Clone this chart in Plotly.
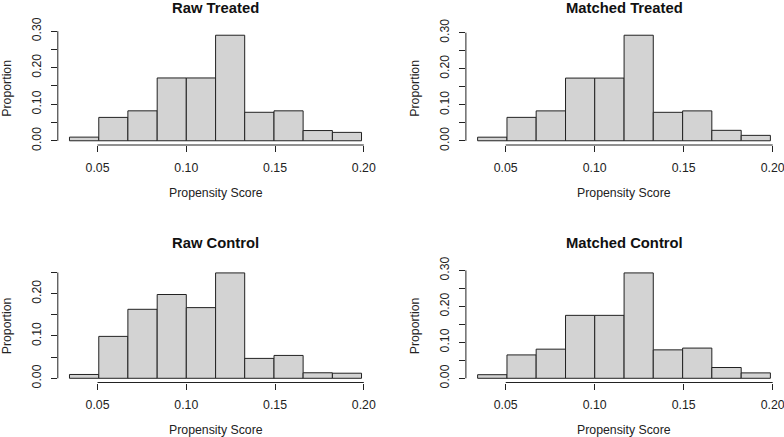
import numpy as np
import plotly.graph_objects as go

# ---- data ----
bin_edges = [0.0342, 0.0507, 0.0671, 0.0836, 0.1000, 0.1165, 0.1329, 0.1494, 0.1658, 0.1823, 0.1987]
raw_treated = [0.010, 0.064, 0.082, 0.172, 0.172, 0.289, 0.078, 0.082, 0.028, 0.023]
matched_treated = [0.010, 0.065, 0.083, 0.174, 0.174, 0.293, 0.079, 0.083, 0.029, 0.015]
raw_control = [0.009, 0.099, 0.163, 0.198, 0.167, 0.249, 0.047, 0.054, 0.013, 0.012]
matched_control = [0.010, 0.065, 0.081, 0.175, 0.175, 0.293, 0.079, 0.084, 0.030, 0.015]
panel_titles = ["Raw Treated", "Matched Treated", "Raw Control", "Matched Control"]
x_tick_vals = [0.05, 0.10, 0.15, 0.20]
x_tick_text = ["0.05", "0.10", "0.15", "0.20"]
x_label = "Propensity Score"
y_label = "Proportion"

W, H = 784, 437
FONT = "Liberation Sans, Arial, sans-serif"
TXT = "#222222"

edges = np.array(bin_edges)
centers = (edges[:-1] + edges[1:]) / 2
widths = np.diff(edges)
span = edges[-1] - edges[0]
xlim = [edges[0] - 0.04 * span, edges[-1] + 0.04 * span]

# plot regions in pixels (left, right), (top, bottom)
cols = [(57.8, 373.2), (465.9, 782.1)]
rows = [(31.0, 145.0), (268.7, 382.5)]

series = [raw_treated, matched_treated, raw_control, matched_control]

fig = go.Figure()
layout = dict(width=W, height=H, margin=dict(l=0, r=0, t=0, b=0, pad=0, autoexpand=False),
              template="none",
              paper_bgcolor="white", plot_bgcolor="white", showlegend=False,
              font=dict(family=FONT, color=TXT, size=12.3))
annotations = []
shapes = []

for i, vals in enumerate(series):
    r, c = divmod(i, 2)
    n = i + 1
    xa = "x" if n == 1 else f"x{n}"
    ya = "y" if n == 1 else f"y{n}"
    ymax = max(vals)
    ylim = [-0.04 * ymax, 1.04 * ymax]
    yticks = [round(k * 0.05, 2) for k in range(0, 20) if k * 0.05 <= ylim[1] + 1e-9]
    ytext = [f"{v:.2f}" if round(v * 100) % 10 == 0 else "" for v in yticks]

    fig.add_trace(go.Bar(x=centers, y=vals, width=widths, xaxis=xa, yaxis=ya,
                         marker=dict(color="#D3D3D3", line=dict(color="#222222", width=1)),
                         hoverinfo="x+y"))
    xl, xr = cols[c]
    yt, yb = rows[r]
    layout["xaxis" if n == 1 else f"xaxis{n}"] = dict(
        domain=[xl / W, xr / W], range=xlim, anchor=ya, automargin=False,
        showgrid=False, zeroline=False, showline=False,
        ticks="outside", ticklen=6, tickwidth=1, tickcolor=TXT,
        tickvals=x_tick_vals, ticktext=x_tick_text, ticklabeloverflow="allow",
        tickfont=dict(size=12.3, color=TXT), ticklabelstandoff=5)
    layout["yaxis" if n == 1 else f"yaxis{n}"] = dict(
        domain=[1 - yb / H, 1 - yt / H], range=ylim, anchor=xa, automargin=False,
        showgrid=False, zeroline=False, showline=False,
        ticks="outside", ticklen=6, tickwidth=1, tickcolor=TXT,
        tickvals=yticks, ticktext=ytext, tickangle=-90, ticklabeloverflow="allow",
        tickfont=dict(size=12.3, color=TXT), ticklabelstandoff=5)
    # R-style axis lines spanning first..last tick
    shapes.append(dict(type="line", xref=xa, yref=f"{ya} domain",
                       x0=x_tick_vals[0], x1=x_tick_vals[-1], y0=0, y1=0,
                       line=dict(color=TXT, width=1)))
    shapes.append(dict(type="line", xref=f"{xa} domain", yref=ya,
                       x0=0, x1=0, y0=yticks[0], y1=yticks[-1],
                       line=dict(color=TXT, width=1)))
    cx = (xl + xr) / 2 / W
    title_y = [8.0, 243.4][r]
    xlab_y = [192.7, 429.7][r]
    ylab_x = [6.7, 414.7][c]
    annotations.append(dict(text=f"<b>{panel_titles[i]}</b>", x=cx, y=1 - title_y / H,
                            xref="paper", yref="paper", showarrow=False,
                            xanchor="center", yanchor="middle",
                            font=dict(size=14.8, color="#111111", family=FONT)))
    annotations.append(dict(text=x_label, x=cx, y=1 - xlab_y / H,
                            xref="paper", yref="paper", showarrow=False,
                            xanchor="center", yanchor="middle",
                            font=dict(size=12.3, color=TXT, family=FONT)))
    annotations.append(dict(text=y_label, x=ylab_x / W, y=1 - (yt + yb) / 2 / H,
                            xref="paper", yref="paper", showarrow=False, textangle=-90,
                            xanchor="center", yanchor="middle",
                            font=dict(size=12.3, color=TXT, family=FONT)))

layout["annotations"] = annotations
layout["shapes"] = shapes
fig.update_layout(**layout)
fig.write_html("out.html", config={"displayModeBar": False},
               post_script="document.body.style.margin='0';document.body.style.overflow='hidden';")
